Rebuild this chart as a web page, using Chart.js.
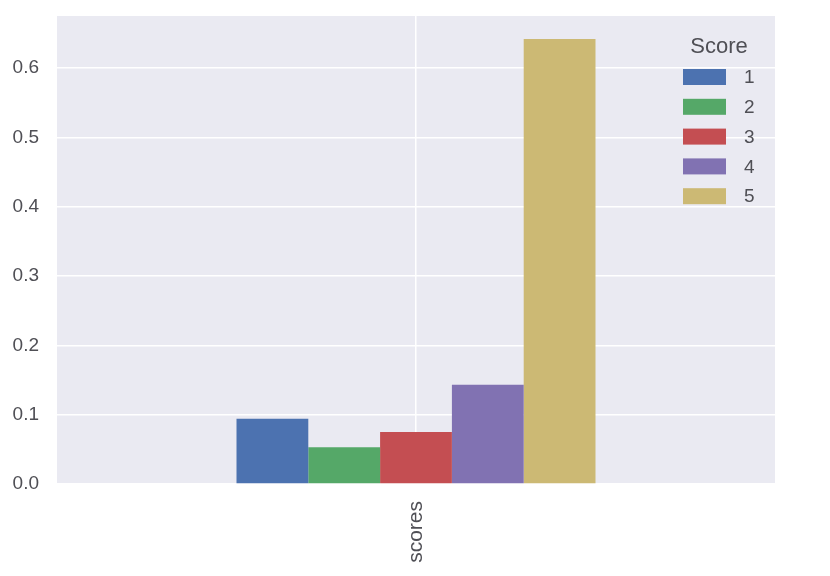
<!DOCTYPE html>
<html>
<head>
<meta charset="utf-8">
<script src="https://cdn.jsdelivr.net/npm/chart.js@4"></script>
<style>
  body { margin: 0; background: #fff; }
  #wrap { width: 830px; height: 576px; }
</style>
</head>
<body>
<div id="wrap"><canvas id="myChart" width="830" height="576"></canvas></div>
<script>
// data
var categories = ["scores"];
var score_labels = ["1", "2", "3", "4", "5"];
var score_values = [0.094, 0.053, 0.075, 0.143, 0.642];
var score_colors = ["#4C72B0", "#55A868", "#C44E52", "#8172B2", "#CCB974"];
var y_ticks = [0.0, 0.1, 0.2, 0.3, 0.4, 0.5, 0.6];

var textColor = "#4f4f55";
var fontFamily = "'Liberation Sans', Arial, sans-serif";

// plot background like seaborn darkgrid
var bgPlugin = {
    id: 'plotBg',
    beforeDraw: function(chart) {
        var a = chart.chartArea, ctx = chart.ctx;
        ctx.save();
        ctx.fillStyle = "#EAEAF2";
        ctx.fillRect(a.left, a.top, a.right - a.left, a.bottom - a.top);
        ctx.restore();
    }
};

// legend box in the upper right corner, with title
var legendPlugin = {
    id: 'scoreLegend',
    afterDraw: function(chart) {
        var ctx = chart.ctx;
        ctx.save();
        ctx.fillStyle = textColor;
        ctx.font = "22px " + fontFamily;
        ctx.textAlign = "center";
        ctx.textBaseline = "middle";
        ctx.fillText("Score", 719, 47);
        ctx.font = "19px " + fontFamily;
        ctx.textAlign = "left";
        chart.data.datasets.forEach(function(ds, i) {
            var y = 77 + i * 29.8;
            ctx.fillStyle = ds.backgroundColor;
            ctx.fillRect(683, y - 8, 43, 16);
            ctx.fillStyle = textColor;
            ctx.fillText(ds.label, 744, y + 1);
        });
        ctx.restore();
    }
};

var datasets = score_labels.map(function(lbl, i) {
    return {
        label: lbl,
        data: [score_values[i]],
        backgroundColor: score_colors[i],
        borderWidth: 0,
        categoryPercentage: 0.5,
        barPercentage: 1.0
    };
});

var ctx = document.getElementById('myChart').getContext('2d');
var myChart = new Chart(ctx, {
    type: 'bar',
    data: {
        labels: categories,
        datasets: datasets
    },
    plugins: [bgPlugin, legendPlugin],
    options: {
        responsive: false,
        animation: false,
        layout: { padding: { top: 16, right: 55, left: 0, bottom: 0 } },
        plugins: {
            legend: { display: false },
            tooltip: { enabled: false }
        },
        scales: {
            x: {
                border: { display: false },
                grid: { color: "#ffffff", lineWidth: 1.5, offset: false, drawTicks: false },
                ticks: {
                    color: textColor,
                    font: { size: 21, family: fontFamily },
                    minRotation: 90,
                    maxRotation: 90,
                    padding: 17
                },
                afterFit: function(scale) {
                    scale.height = 92;
                    scale.paddingLeft = 0;
                    scale.paddingRight = 0;
                }
            },
            y: {
                min: 0,
                max: 0.675,
                border: { display: false },
                grid: { color: "#ffffff", lineWidth: 1.5, drawTicks: false },
                afterBuildTicks: function(scale) {
                    scale.ticks = y_ticks.map(function(v) { return { value: v }; });
                },
                ticks: {
                    color: textColor,
                    font: { size: 19, family: fontFamily },
                    padding: 18,
                    callback: function(v) { return v.toFixed(1); }
                },
                afterFit: function(scale) {
                    scale.width = 57;
                    scale.paddingTop = 0;
                    scale.paddingBottom = 0;
                }
            }
        }
    }
});
</script>
</body>
</html>
